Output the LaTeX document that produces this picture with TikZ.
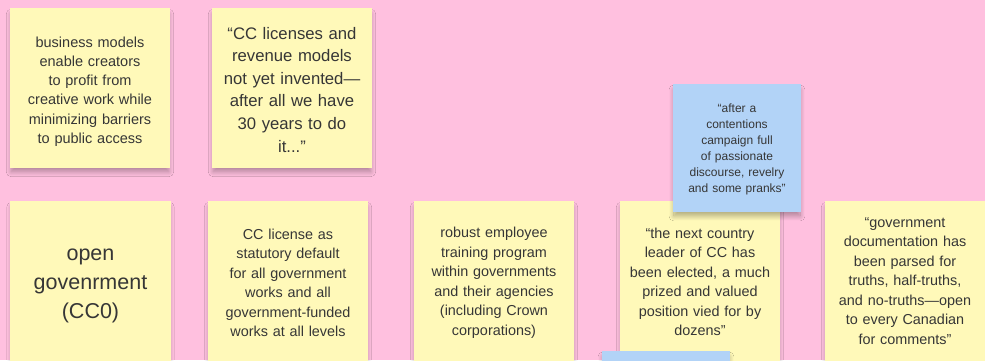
\documentclass[tikz,border=0pt]{standalone}
\usepackage{fontspec}
\setmainfont{Liberation Sans}
\usetikzlibrary{shadows.blur}
\definecolor{bgpink}{HTML}{FFC0DF}
\definecolor{noteyellow}{HTML}{FFF9B9}
\definecolor{noteblue}{HTML}{B2D3F7}
\definecolor{inktext}{HTML}{363636}
\tikzset{
  sticky/.style={rectangle, inner sep=0pt, minimum width=160bp, minimum height=160bp,
    text width=150bp, align=center, text=inktext, fill=noteyellow,
    blur shadow={shadow xshift=0bp, shadow yshift=-5bp, shadow blur radius=5bp,
      shadow blur steps=15, shadow scale=0.985, shadow opacity=32}},
  bluesticky/.style={sticky, fill=noteblue, minimum width=128bp, minimum height=128bp, text width=120bp},
  lower/.style={execute at begin node={\rule{0pt}{#1}}},
  smalltxt/.style={font=\fontsize{14.5bp}{19.2bp}\selectfont},
  midtxt/.style={font=\fontsize{16.7bp}{22.6bp}\selectfont},
  bigtxt/.style={font=\fontsize{21.5bp}{29bp}\selectfont},
  rowtxt/.style={font=\fontsize{14.4bp}{19.5bp}\selectfont},
  bluetxt/.style={font=\fontsize{12bp}{16bp}\selectfont},
}
\begin{document}
\begin{tikzpicture}[x=1bp,y=-1bp]
\fill[bgpink] (0,0) rectangle (985,360);
\useasboundingbox (0,0) rectangle (985,360);
\node[sticky, smalltxt, lower=17.6bp] (n1) at (90,88) {business models\\enable creators\\to profit from\\creative work while\\minimizing barriers\\to public access};
\node[sticky, midtxt, lower=15.2bp] (n2) at (292,88) {“CC licenses and\\revenue models\\not yet invented—\\after all we have\\30 years to do\\it...”};
\node[sticky, bigtxt, lower=21.2bp] (n3) at (90.5,281) {open\\govenrment\\(CC0)};
\node[sticky, rowtxt, lower=14.5bp] (n4) at (288,281) {CC license as\\statutory default\\for all government\\works and all\\government-funded\\works at all levels};
\node[sticky, rowtxt, lower=13.5bp] (n5) at (494,281) {robust employee\\training program\\within governments\\and their agencies\\(including Crown\\corporations)};
\node[sticky, rowtxt, lower=12.5bp] (n6) at (700,281) {“the next country\\leader of CC has\\been elected, a much\\prized and valued\\position vied for by\\dozens”};
\node[sticky, rowtxt] (n7) at (905,281) {“government\\documentation has\\been parsed for\\truths, half-truths,\\and no-truths—open\\to every Canadian\\for comments”};
\node[bluesticky, bluetxt, lower=10.8bp] (b1) at (737,148) {“after a\\contentions\\campaign full\\of passionate\\discourse, revelry\\and some pranks”};
\node[bluesticky] (b2) at (666,415) {};
\end{tikzpicture}
\end{document}
